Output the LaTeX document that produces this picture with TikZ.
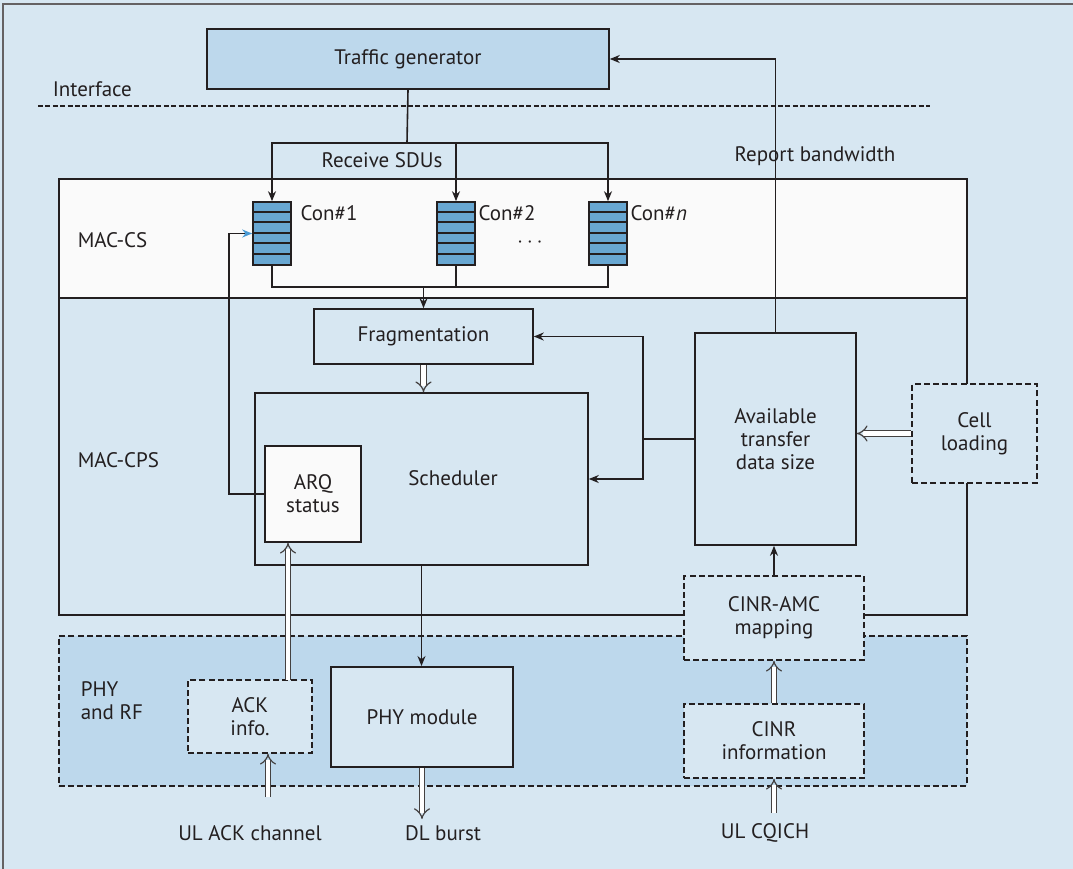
\documentclass[tikz,border=0pt]{standalone}
\usepackage{fontspec}
\setmainfont{PT Sans}
\usetikzlibrary{arrows.meta}

\definecolor{bgblue}{RGB}{215,231,242}
\definecolor{midblue}{RGB}{189,216,236}
\definecolor{qblue}{RGB}{104,167,210}
\definecolor{arqblue}{RGB}{74,154,212}
\definecolor{paper}{RGB}{250,250,250}
\definecolor{ink}{RGB}{35,31,32}

\begin{document}
\begin{tikzpicture}[%
            x=0.5pt,
            y=-0.5pt,
            >={Stealth[length=5pt,width=4pt]},
            color=ink,
            line width=0.8pt,
            font=\fontsize{10.5}{11.5}\selectfont,
            ]
    \tikzset{blk/.style = {draw=ink, fill=bgblue, inner sep=0pt, align=center}}
    \tikzset{dblk/.style = {blk, dash pattern=on 3pt off 1.6pt}}
    \tikzset{dbl/.style = {draw=ink!85, line width=0.6pt, double=white, double distance=2.2pt, -{Implies}}}
    \tikzset{lbl/.style = {inner sep=0pt, align=left}}
    \tikzset{fifo/.style = {draw=ink, fill=qblue, minimum width=19pt, minimum height=31.5pt, inner sep=0pt}}

    % Frame
    \useasboundingbox (0,0) rectangle (1073,869);
    \fill[bgblue] (0,0) rectangle (1073,869);
    \draw[ink!70, line width=1pt] (3,869) -- (3,4) -- (1073,4);

    % Layers
    \node[blk, fill=paper, minimum width=454pt, minimum height=59.5pt, anchor=north west] (maccs) at (58,178) {};
    \node[blk, minimum width=454pt, minimum height=158.5pt, anchor=north west] (maccps) at (58,297) {};
    \node[dblk, fill=midblue, minimum width=454pt, minimum height=75pt, anchor=north west] (phyrf) at (58,635) {};
    \node[lbl, anchor=west] (lcs) at (77,240) {MAC-CS};
    \node[lbl, anchor=west] (lcps) at (77,460) {MAC-CPS};
    \node[lbl, anchor=west] (lphy) at (80,701) {PHY\\and RF};

    % Traffic generator & interface
    \node[blk, fill=midblue, minimum width=201pt, minimum height=30pt] (tg) at (408,59) {Traffic generator};
    \node[lbl, anchor=west] (intf) at (52,89) {Interface};
    \draw[dash pattern=on 2.5pt off 1.2pt] (38,106) -- (930,106);

    % Connection queues
    \foreach \n/\x in {1/272, 2/456, n/608} {
        \node[fifo] (q\n) at (\x,233.5) {};
        \foreach \k in {1,...,5}
            \draw (q\n.north west) ++(0,\k*10.5) -- ++(38,0);
    }
    \node[lbl, anchor=north west] (c1) at ([xshift=4pt,yshift=-2pt]q1.north east) {Con\#1};
    \node[lbl, anchor=north west] (c2) at ([xshift=1pt,yshift=-2pt]q2.north east) {Con\#2};
    \node[lbl, anchor=north west] (cn) at ([xshift=1pt,yshift=-2pt]qn.north east) {Con\#\textit{n}};
    \node[lbl] (dots) at (530,243) {$\cdots$};

    % Blocks
    \node[blk, minimum width=109.5pt, minimum height=27.5pt] (frag) at (423.5,336.5) {Fragmentation};
    \node[blk, minimum width=166.5pt, minimum height=86pt] (sched) at (421.5,479) {};
    \node[lbl] (lsched) at (453,478) {Scheduler};
    \node[blk, fill=paper, minimum width=48pt, minimum height=48pt] (arq) at (313,494) {ARQ\\status};
    \node[blk, minimum width=80.5pt, minimum height=106pt] (avail) at (775.5,439) {Available\\transfer\\data size};
    \node[dblk, minimum width=62.5pt, minimum height=49.5pt] (cell) at (974.5,433.5) {Cell\\loading};
    \node[dblk, minimum width=90pt, minimum height=42pt] (amc) at (774,618) {CINR-AMC\\mapping};
    \node[dblk, minimum width=90pt, minimum height=37pt] (cinr) at (774,741) {CINR\\information};
    \node[dblk, minimum width=62pt, minimum height=36.5pt] (ack) at (250,716.5) {ACK\\info.};
    \node[blk, line width=1pt, minimum width=91pt, minimum height=50pt] (phymod) at (422,717) {PHY module};

    % Labels
    \node[lbl] (rsdu) at (382,160) {Receive SDUs};
    \node[lbl] (rbw) at (815,156) {Report bandwidth};
    \node[lbl] (ulack) at (250,833) {UL ACK channel};
    \node[lbl] (dlb) at (443,833) {DL burst};
    \node[lbl] (ulcq) at (765,833) {UL CQICH};

    % Data path
    \coordinate (split) at (407,143);
    \coordinate (merge) at (frag.north |- 0,287);
    \draw (tg.south) -- (split);
    \foreach \n in {1,2,n} \draw[->] (split) -| (q\n.north);
    \foreach \n in {1,2,n} \draw (q\n.south) |- (merge);
    \draw[->] (merge) -- (frag.north);
    \draw[dbl] (frag.south) -- (frag.south |- sched.north);
    \draw[->] (sched.south) -- (sched.south |- phymod.north);

    % Feedback
    \coordinate (arqback) at (229,494);
    \draw[-{Stealth[length=5pt,width=4pt,color=arqblue]}] (arq.west) -- (arqback) |- (q1.west);
    \draw[->] (avail.north) |- (tg.east);
    \coordinate (fork) at (643,439);
    \draw (avail.west) -- (fork);
    \draw[->] (fork) |- (frag.east);
    \draw[->] (fork) |- (sched.east);
    \draw[dbl] (cell.west) -- (cell.west -| avail.east);
    \draw[->] (amc.north) -- (amc.north |- avail.south);
    \draw[dbl] (cinr.north) -- (amc.south);

    % PHY inputs & outputs
    \coordinate (ackup) at (288,680);
    \coordinate (ulackin) at (268,797);
    \coordinate (dlout) at (phymod.south |- 0,819);
    \coordinate (cqichin) at (774,813);
    \draw[dbl] (ackup) -- (ackup |- arq.south);
    \draw[dbl] (ulackin) -- (ulackin |- ack.south);
    \draw[dbl] (phymod.south) -- (dlout);
    \draw[dbl] (cqichin) -- (cinr.south);

    \end{tikzpicture}
\end{document}
